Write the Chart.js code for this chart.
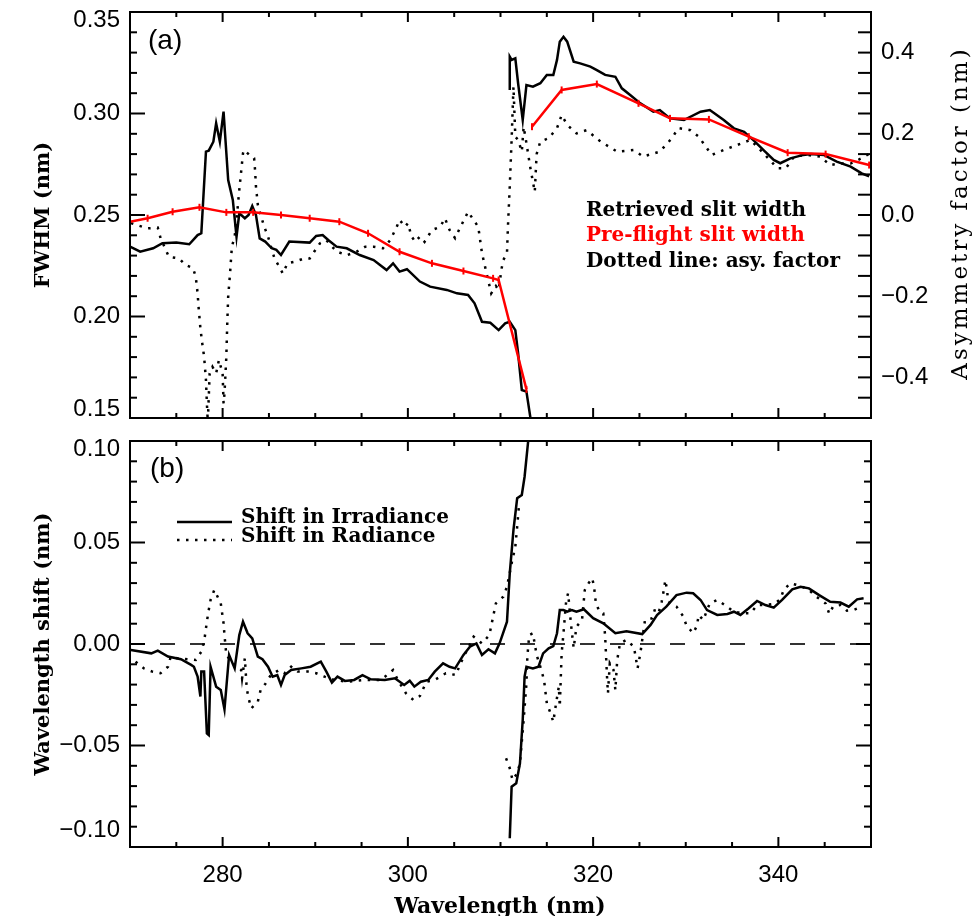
<!DOCTYPE html>
<html>
<head>
<meta charset="utf-8">
<script src="https://cdn.jsdelivr.net/npm/chart.js@4.4.1/dist/chart.umd.min.js"></script>
<style>
    html, body { margin: 0; padding: 0; background: #fff; }
    #wrap { position: relative; width: 977px; height: 916px; }
    #wrap canvas { position: absolute; left: 0; }
    #topChart { top: 0; }
    #botChart { top: 430px; }
</style>
</head>
<body>
<div id="wrap">
    <canvas id="topChart" width="977" height="430"></canvas>
    <canvas id="botChart" width="977" height="486"></canvas>
</div>
<script>
// --- Tick labels ---
const wlTicks = [280, 300, 320, 340];
const fwhmTicks = [0.15, 0.20, 0.25, 0.30, 0.35];
const asymTicks = [-0.4, -0.2, 0.0, 0.2, 0.4];
const shiftTicks = [-0.10, -0.05, 0.00, 0.05, 0.10];

// --- Panel (a): retrieved slit width (FWHM, nm) ---
const fwhmWl = [270, 271.1, 272.5, 273.5, 275.0, 276.4, 277.3, 277.7, 278.2, 278.5, 279.0, 279.3, 279.7, 280.1,
    280.6, 281.1, 281.5, 281.8, 282.4, 282.8, 283.2, 283.6, 284.0, 284.6, 285.3, 285.8, 286.3, 287.2, 289.4, 290.1,
    290.8, 291.4, 292.3, 293.4, 294.8, 296.3, 297.7, 298.4, 299.1, 299.9, 301.3, 302.4, 304.2, 305.3, 306.5, 307.2,
    308.0, 308.9, 309.8, 310.5, 311.0, 311.6, 311.9, 312.3, 312.8, 313.3,
    311.0,
    311.0, 311.0, 311.2, 311.6, 311.9, 312.4, 312.8, 313.5, 314.3, 315.0, 315.7, 316.1, 316.4, 316.8, 317.2, 317.9,
    318.6, 319.7, 320.4, 321.3, 322.4, 323.1, 324.0, 325.1, 326.5, 327.2, 328.3, 329.8, 331.6, 332.6, 334.1, 335.2,
    336.3, 337.3, 338.4, 339.5, 340.2, 341.3, 342.7, 343.5, 344.9, 346.3, 347.8, 349.0, 349.8];
const fwhmVal = [0.2344, 0.2319, 0.2336, 0.2361, 0.2364, 0.2356, 0.2401, 0.2410, 0.2812, 0.2817, 0.2861, 0.2952, 0.2861, 0.3009,
    0.2672, 0.2574, 0.2393, 0.2508, 0.2484, 0.2500, 0.2544, 0.2500, 0.2385, 0.2369, 0.2336, 0.2328, 0.2303, 0.2369, 0.2364, 0.2397,
    0.2401, 0.2377, 0.2344, 0.2336, 0.2303, 0.2278, 0.2229, 0.2262, 0.2221, 0.2233, 0.2172, 0.2147, 0.2131, 0.2114, 0.2106, 0.2065,
    0.1974, 0.1969, 0.1933, 0.1966, 0.1974, 0.1933, 0.1819, 0.1638, 0.1630, 0.1480,
    null,
    0.3116, 0.3280, 0.3264, 0.3272, 0.3149, 0.2968, 0.3140, 0.3132, 0.3149, 0.3190, 0.3190, 0.3264, 0.3354, 0.3378, 0.3354, 0.3255,
    0.3247, 0.3231, 0.3214, 0.3190, 0.3181, 0.3124, 0.3091, 0.3050, 0.3009, 0.3017, 0.2976, 0.2968, 0.3009, 0.3017, 0.2968, 0.2927,
    0.2910, 0.2869, 0.2820, 0.2771, 0.2755, 0.2779, 0.2796, 0.2800, 0.2796, 0.2763, 0.2738, 0.2705, 0.2690];

// pre-flight slit width (nodes)
const preWl = [270, 271.9, 274.6, 277.5, 280.4, 283.3, 286.3, 289.4, 292.6, 295.7, 299.1, 302.6, 306.0, 309.2, 309.8, 312.8,
    313.0,
    313.4, 316.6, 320.4, 324.9, 328.3, 332.5, 336.8, 341.0, 345.1, 349.8];
const preVal = [0.2467, 0.2484, 0.2516, 0.2538, 0.2513, 0.2513, 0.2500, 0.2484, 0.2467, 0.2410, 0.2319, 0.2262, 0.2224, 0.2188, 0.2180, 0.1641,
    null,
    0.2935, 0.3116, 0.3145, 0.3050, 0.2976, 0.2971, 0.2886, 0.2807, 0.2800, 0.2746];

// asymmetry factor (right axis)
const asymWl = [270.1, 271.9, 273.0, 273.3, 274.2, 275.3, 276.0, 276.8, 277.1, 277.3, 277.4, 277.6, 277.8, 278.0, 278.2, 278.3,
    278.4, 278.6, 278.9, 279.3, 279.6, 280.0, 280.1, 280.2, 280.4, 280.5, 280.6, 280.8, 281.0, 281.3, 281.6, 281.8, 282.0, 282.2,
    282.3, 282.9, 283.4, 283.5, 283.6, 283.8, 284.1, 284.5, 284.9, 285.6, 286.1, 286.5, 287.0, 287.8, 288.8, 289.4, 289.9, 290.5,
    291.2, 292.3, 293.4, 294.5, 295.4, 296.3, 297.3, 298.1, 298.8, 299.1, 299.7, 300.0, 300.4, 300.8, 301.3, 301.8, 302.6, 303.5,
    304.0, 304.5, 305.1, 305.6, 306.5, 307.2, 307.6, 308.0, 308.5, 309.0, 309.5, 309.8, 310.1, 310.3, 310.7, 310.8, 311.0, 311.2,
    311.4, 311.6, 311.9, 312.3, 312.5, 312.8, 313.2, 313.7, 313.9, 314.3, 315.2, 316.1, 316.6, 317.2, 318.2, 319.3, 320.8, 322.6,
    324.4, 325.4, 327.2, 328.5, 329.2, 330.5, 331.4, 332.8, 334.1, 335.5, 337.0, 338.4, 339.9, 340.8, 341.7, 343.1, 344.5, 345.6,
    346.7, 347.8, 349.0, 349.9];
const asymVal = [-0.020, -0.033, -0.031, -0.057, -0.103, -0.107, -0.123, -0.131, -0.152, -0.193, -0.226, -0.279, -0.316, -0.349, -0.406, -0.464,
    -0.510, -0.390, -0.374, -0.390, -0.357, -0.390, -0.464, -0.440, -0.349, -0.267, -0.201, -0.144, -0.078, -0.053, 0.012, 0.062, 0.107, 0.152,
    0.160, 0.148, 0.140, 0.111, 0.070, 0.025, 0.000, -0.029, -0.053, -0.107, -0.127, -0.144, -0.119, -0.115, -0.107, -0.107, -0.090, -0.070,
    -0.062, -0.090, -0.099, -0.090, -0.078, -0.078, -0.082, -0.062, -0.029, -0.012, -0.029, -0.020, -0.053, -0.066, -0.053, -0.066, -0.037, -0.029,
    -0.008, -0.037, -0.057, -0.033, 0.008, -0.016, -0.029, -0.094, -0.144, -0.193, -0.175, -0.185, -0.134, -0.111, -0.094, -0.030, 0.070, 0.185,
    0.316, 0.193, 0.185, 0.156, 0.217, 0.177, 0.119, 0.057, 0.150, 0.181, 0.189, 0.214, 0.246, 0.222, 0.201, 0.209, 0.181, 0.156,
    0.160, 0.144, 0.156, 0.189, 0.214, 0.209, 0.193, 0.148, 0.160, 0.172, 0.185, 0.152, 0.115, 0.115, 0.144, 0.148, 0.144, 0.123,
    0.127, 0.127, 0.140, 0.152];

// --- Panel (b): wavelength shift (nm) ---
const irrWl = [270.1, 272.3, 273.0, 274.1, 275.5, 276.6, 276.9, 277.3, 277.6, 277.7, 278.0, 278.3, 278.5, 278.7, 279.3, 279.8,
    280.2, 280.7, 281.3, 281.8, 282.2, 282.7, 283.2, 283.8, 284.3, 284.9, 285.4, 285.9, 286.3, 286.7, 287.4, 288.5, 289.5, 290.6,
    291.2, 291.8, 292.4, 293.2, 294.2, 295.1, 296.0, 297.5, 298.6, 299.6, 300.2, 300.7, 301.4, 302.2, 302.9, 303.8, 304.5, 305.1,
    306.0, 306.7, 307.4, 308.0, 308.7, 309.4, 309.9, 310.7, 311.0, 311.4, 311.8, 312.3, 312.6, 313.0, 313.2,
    311.0,
    311.0, 311.2, 311.7, 312.1, 312.4, 312.6, 312.8, 313.5, 314.1, 314.6, 315.2, 315.7, 316.1, 316.4, 316.8, 317.2, 317.7, 318.2,
    319.0, 320.0, 321.1, 322.4, 323.6, 325.3, 326.2, 326.9, 327.9, 329.0, 330.1, 330.8, 331.6, 332.3, 333.4, 334.5, 335.2, 335.9,
    336.8, 337.7, 338.6, 339.5, 340.4, 341.5, 342.4, 343.3, 344.4, 345.6, 346.7, 347.6, 348.5, 349.2];
const irrVal = [-0.0030, -0.0046, -0.0033, -0.0062, -0.0075, -0.0103, -0.0112, -0.0161, -0.0259, -0.0136, -0.0136, -0.0440, -0.0448, -0.0112, -0.0210, -0.0227,
    -0.0322, -0.0054, -0.0120, 0.0044, 0.0110, 0.0053, 0.0028, -0.0062, -0.0075, -0.0112, -0.0161, -0.0153, -0.0202, -0.0153, -0.0128, -0.0120, -0.0112, -0.0087,
    -0.0136, -0.0190, -0.0161, -0.0182, -0.0177, -0.0153, -0.0174, -0.0177, -0.0169, -0.0202, -0.0181, -0.0210, -0.0186, -0.0177, -0.0136, -0.0095, -0.0112, -0.0120,
    -0.0054, -0.0013, 0.0003, -0.0054, -0.0026, -0.0046, 0.0003, 0.0110, 0.0348, 0.0562, 0.0718, 0.0734, 0.0824, 0.1005, 0.1100,
    null,
    -0.0957, -0.0703, -0.0686, -0.0588, -0.0374, -0.0161, -0.0112, -0.0120, -0.0112, -0.0046, -0.0021, -0.0010, 0.0053, 0.0167, 0.0167, 0.0159, 0.0167, 0.0159,
    0.0171, 0.0127, 0.0102, 0.0053, 0.0063, 0.0049, 0.0094, 0.0143, 0.0184, 0.0241, 0.0253, 0.0250, 0.0217, 0.0167, 0.0143, 0.0148, 0.0159, 0.0143,
    0.0176, 0.0212, 0.0192, 0.0179, 0.0217, 0.0269, 0.0282, 0.0274, 0.0241, 0.0208, 0.0204, 0.0184, 0.0220, 0.0225];

const radWl = [270.6, 271.5, 272.4, 273.3, 274.1, 274.4, 275.1, 277.1, 277.7, 278.0, 278.3, 278.5, 278.7, 279.1, 279.8, 280.1,
    280.2, 280.4, 281.2, 282.0, 282.1, 282.4, 282.6, 282.8, 283.1, 283.8, 284.1, 284.6, 285.2, 286.1, 286.7, 287.4, 288.1, 289.2,
    290.1, 291.0, 292.1, 293.5, 295.3, 297.1, 298.4, 298.9, 299.8, 300.6, 301.3, 302.0, 302.9, 304.1, 305.2, 305.6, 307.1, 308.0,
    308.8, 309.2, 309.5, 310.3, 310.7, 311.2, 311.6, 311.8, 312.0,
    311.0,
    310.6, 311.0, 311.3, 311.8, 312.1, 312.5, 312.8, 312.9, 313.1, 313.5, 313.9, 314.3, 314.7, 315.0, 315.4, 315.7, 316.0, 316.3,
    316.4, 316.6, 316.8, 317.1, 317.3, 317.6, 317.9, 318.2, 318.8, 319.1, 319.5, 319.9, 320.1, 320.3, 320.7, 321.1, 321.3, 321.5,
    321.6, 321.8, 322.2, 322.4, 322.6, 322.9, 323.6, 324.4, 324.8, 325.1, 325.3, 325.6, 326.4, 326.7, 327.1, 327.4, 327.6, 327.8,
    328.0, 328.1, 329.0, 329.7, 330.1, 330.5, 330.8, 331.2, 331.4, 331.9, 332.3, 332.6, 333.4, 334.2, 335.2, 336.1, 337.0, 337.7,
    338.6, 339.5, 340.2, 340.6, 341.3, 342.4, 343.3, 344.0, 344.6, 345.1, 345.5, 345.9, 346.7, 347.4, 348.1, 349.0];
const radVal = [-0.0087, -0.0120, -0.0136, -0.0144, -0.0112, -0.0062, -0.0070, -0.0079, -0.0038, 0.0011, 0.0110, 0.0167, 0.0217, 0.0266, 0.0200, 0.0102,
    0.0044, -0.0054, -0.0100, -0.0128, -0.0169, -0.0070, -0.0218, -0.0267, -0.0317, -0.0284, -0.0227, -0.0197, -0.0153, -0.0128, -0.0144, -0.0112, -0.0136, -0.0136,
    -0.0144, -0.0161, -0.0177, -0.0186, -0.0177, -0.0177, -0.0128, -0.0177, -0.0243, -0.0276, -0.0256, -0.0186, -0.0177, -0.0144, -0.0153, -0.0103, 0.0036, 0.0003,
    0.0044, 0.0134, 0.0200, 0.0233, 0.0282, 0.0397, 0.0479, 0.0578, 0.0685,
    null,
    -0.0563, -0.0612, -0.0670, -0.0637, -0.0588, -0.0374, -0.0194, -0.0062, 0.0044, 0.0053, -0.0054, -0.0112, -0.0177, -0.0292, -0.0341, -0.0383, -0.0292, -0.0210,
    -0.0309, -0.0046, 0.0053, 0.0217, 0.0250, 0.0102, -0.0021, 0.0085, 0.0118, 0.0266, 0.0299, 0.0324, 0.0282, 0.0200, 0.0159, 0.0151, 0.0036, -0.0161,
    -0.0243, -0.0095, -0.0128, -0.0227, -0.0079, 0.0003, 0.0020, -0.0013, -0.0120, -0.0046, 0.0020, 0.0118, 0.0127, 0.0176, 0.0159, 0.0208, 0.0258, 0.0315,
    0.0258, 0.0208, 0.0184, 0.0138, 0.0089, 0.0069, 0.0053, 0.0089, 0.0143, 0.0118, 0.0167, 0.0200, 0.0217, 0.0192, 0.0159, 0.0151, 0.0151, 0.0192,
    0.0192, 0.0197, 0.0220, 0.0269, 0.0299, 0.0286, 0.0266, 0.0236, 0.0217, 0.0200, 0.0148, 0.0184, 0.0192, 0.0164, 0.0167, 0.0184];

const zeroWl = [270, 350];
const zeroVal = [0, 0];

function pts(xs, ys) {
    return xs.map((x, i) => ({ x: x, y: ys[i] }));
}

// lineHeight is only used to nudge the end labels off the frame corners (IDL style)
const TICK_FONT = { family: "'Liberation Sans', Arial, sans-serif", size: 24, lineHeight: 0.7 };
const DOT = [2.5, 6.5];

function minusSign(s) { return s.replace('-', '\u2212'); }

function fixedTicks(list) {
    return function (scale) {
        scale.ticks = list.map(v => ({ value: v }));
    };
}

// push first label up / last label down with blank lines
function edgeLabel(text, index, count, bottomLines, topLines) {
    if (index === 0 && bottomLines) return [text].concat(Array(bottomLines).fill(''));
    if (index === count - 1 && topLines) return Array(topLines).fill('').concat([text]);
    return text;
}

// IDL-like box: frame, inward ticks and free text
const idlAxes = {
    id: 'idlAxes',
    afterDatasetsDraw(chart, args, opts) {
        const { ctx, chartArea: a, scales } = chart;
        ctx.save();
        ctx.strokeStyle = '#000';
        ctx.lineWidth = 2;
        ctx.strokeRect(a.left, a.top, a.right - a.left, a.bottom - a.top);

        const drawTicks = (spec) => {
            const s = scales[spec.scale];
            const n = Math.round((spec.max - spec.min) / spec.step);
            for (let k = 0; k <= n; k++) {
                const v = spec.min + k * spec.step;
                const major = Math.abs(v / spec.major - Math.round(v / spec.major)) < 1e-6;
                const len = major ? spec.bigLen : spec.smallLen;
                const p = s.getPixelForValue(v);
                ctx.beginPath();
                if (spec.side === 'bottom') { ctx.moveTo(p, a.bottom); ctx.lineTo(p, a.bottom - len); }
                if (spec.side === 'top') { ctx.moveTo(p, a.top); ctx.lineTo(p, a.top + len); }
                if (spec.side === 'left') { ctx.moveTo(a.left, p); ctx.lineTo(a.left + len, p); }
                if (spec.side === 'right') { ctx.moveTo(a.right, p); ctx.lineTo(a.right - len, p); }
                ctx.stroke();
            }
        };
        (opts.ticks || []).forEach(drawTicks);

        (opts.samples || []).forEach(sm => {
            ctx.save();
            ctx.lineWidth = 2.5;
            ctx.setLineDash(sm.dash || []);
            ctx.beginPath();
            ctx.moveTo(sm.x0, sm.y);
            ctx.lineTo(sm.x1, sm.y);
            ctx.stroke();
            ctx.restore();
        });

        (opts.texts || []).forEach(t => {
            ctx.save();
            ctx.font = t.font;
            ctx.fillStyle = t.color || '#000';
            ctx.textAlign = t.align || 'left';
            ctx.textBaseline = t.baseline || 'alphabetic';
            if (t.spacing) ctx.letterSpacing = t.spacing;
            ctx.translate(t.x, t.y);
            if (t.rotate) ctx.rotate(t.rotate);
            ctx.fillText(t.text, 0, 0);
            ctx.restore();
        });
        ctx.restore();
    }
};

const SERIF_B = "bold 21px 'DejaVu Serif', serif";
const LEGEND_F = "bold 20px 'DejaVu Serif', serif";

// --- Panel (a) ---
new Chart(document.getElementById('topChart'), {
    type: 'line',
    data: {
        datasets: [
            {
                label: 'Pre-flight slit width', data: pts(preWl, preVal), yAxisID: 'y',
                borderColor: '#ff0000', borderWidth: 2.5, pointStyle: 'line', pointRotation: 90,
                pointRadius: 3.5, pointBorderWidth: 2, pointBorderColor: '#ff0000', pointBackgroundColor: '#ff0000'
            },
            {
                label: 'Retrieved slit width', data: pts(fwhmWl, fwhmVal), yAxisID: 'y',
                borderColor: '#000', borderWidth: 2.5, pointRadius: 0
            },
            {
                label: 'Asymmetry factor', data: pts(asymWl, asymVal), yAxisID: 'y2',
                borderColor: '#000', borderWidth: 2.5, borderDash: DOT, pointRadius: 0
            }
        ]
    },
    options: {
        responsive: false,
        animation: false,
        events: [],
        layout: { padding: { top: 12, bottom: 12, left: 0, right: 0 } },
        scales: {
            x: { type: 'linear', min: 270, max: 350, display: false },
            y: {
                position: 'left', min: 0.15, max: 0.35,
                afterBuildTicks: fixedTicks(fwhmTicks),
                ticks: {
                    font: TICK_FONT, color: '#000', padding: 10,
                    callback: (v, i, all) => edgeLabel(v.toFixed(2), i, all.length, 1, 1)
                },
                grid: { display: false, drawTicks: false }, border: { display: false },
                afterFit(s) { s.width = 130; s.paddingTop = 0; s.paddingBottom = 0; }
            },
            y2: {
                position: 'right', min: -0.5, max: 0.5,
                afterBuildTicks: fixedTicks(asymTicks),
                ticks: { font: TICK_FONT, color: '#000', padding: 10, callback: v => minusSign(v.toFixed(1)) },
                grid: { display: false, drawTicks: false }, border: { display: false },
                afterFit(s) { s.width = 106; s.paddingTop = 0; s.paddingBottom = 0; }
            }
        },
        plugins: {
            legend: { display: false },
            tooltip: { enabled: false },
            idlAxes: {
                ticks: [
                    { scale: 'x', side: 'bottom', min: 270, max: 350, step: 5, major: 20, bigLen: 10, smallLen: 5 },
                    { scale: 'x', side: 'top', min: 270, max: 350, step: 5, major: 20, bigLen: 10, smallLen: 5 },
                    { scale: 'y', side: 'left', min: 0.15, max: 0.35, step: 0.01, major: 0.05, bigLen: 15, smallLen: 7 },
                    { scale: 'y2', side: 'right', min: -0.5, max: 0.5, step: 0.05, major: 0.05, bigLen: 13, smallLen: 13 }
                ],
                texts: [
                    { text: '(a)', x: 148, y: 49, font: "28px 'Liberation Sans', Arial, sans-serif" },
                    { text: 'Retrieved slit width', x: 586, y: 216, font: LEGEND_F },
                    { text: 'Pre-flight slit width', x: 586, y: 241, font: LEGEND_F, color: '#ff0000' },
                    { text: 'Dotted line: asy. factor', x: 586, y: 267, font: LEGEND_F },
                    { text: 'FWHM (nm)', x: 44, y: 215, font: SERIF_B, align: 'center', baseline: 'middle', rotate: -Math.PI / 2 },
                    { text: 'Asymmetry factor (nm)', x: 961, y: 213, font: "23px 'DejaVu Serif', serif", spacing: '3px',
                      align: 'center', baseline: 'middle', rotate: -Math.PI / 2 }
                ]
            }
        }
    },
    plugins: [idlAxes]
});

// --- Panel (b) ---
new Chart(document.getElementById('botChart'), {
    type: 'line',
    data: {
        datasets: [
            {
                label: 'Shift in Irradiance', data: pts(irrWl, irrVal),
                borderColor: '#000', borderWidth: 2.5, pointRadius: 0
            },
            {
                label: 'Shift in Radiance', data: pts(radWl, radVal),
                borderColor: '#000', borderWidth: 2.5, borderDash: DOT, pointRadius: 0
            },
            {
                label: 'zero', data: pts(zeroWl, zeroVal),
                borderColor: '#000', borderWidth: 1.6, borderDash: [15, 15], pointRadius: 0
            }
        ]
    },
    options: {
        responsive: false,
        animation: false,
        events: [],
        layout: { padding: { top: 11, bottom: 0, left: 0, right: 106 } },
        scales: {
            x: {
                type: 'linear', min: 270, max: 350, position: 'bottom',
                afterBuildTicks: fixedTicks(wlTicks),
                ticks: {
                    font: { family: "'Liberation Sans', Arial, sans-serif", size: 24 }, color: '#000', padding: 14,
                    maxRotation: 0, autoSkip: false, callback: v => String(v)
                },
                grid: { display: false, drawTicks: false }, border: { display: false },
                afterFit(s) { s.height = 69; s.paddingLeft = 0; s.paddingRight = 0; }
            },
            y: {
                position: 'left', min: -0.10, max: 0.10,
                afterBuildTicks: fixedTicks(shiftTicks),
                ticks: {
                    font: TICK_FONT, color: '#000', padding: 10,
                    callback: (v, i, all) => edgeLabel(minusSign(v.toFixed(2)), i, all.length, 2, 1)
                },
                grid: { display: false, drawTicks: false }, border: { display: false },
                afterFit(s) { s.width = 130; s.paddingTop = 0; s.paddingBottom = 0; }
            }
        },
        plugins: {
            legend: { display: false },
            tooltip: { enabled: false },
            idlAxes: {
                ticks: [
                    { scale: 'x', side: 'bottom', min: 270, max: 350, step: 5, major: 20, bigLen: 10, smallLen: 5 },
                    { scale: 'x', side: 'top', min: 270, max: 350, step: 5, major: 20, bigLen: 10, smallLen: 5 },
                    { scale: 'y', side: 'left', min: -0.10, max: 0.10, step: 0.01, major: 0.05, bigLen: 15, smallLen: 7 },
                    { scale: 'y', side: 'right', min: -0.10, max: 0.10, step: 0.01, major: 0.05, bigLen: 15, smallLen: 7 }
                ],
                samples: [
                    { x0: 177, x1: 232, y: 92 },
                    { x0: 177, x1: 232, y: 110, dash: DOT }
                ],
                texts: [
                    { text: '(b)', x: 150, y: 47, font: "28px 'Liberation Sans', Arial, sans-serif" },
                    { text: 'Shift in Irradiance', x: 241, y: 93, font: LEGEND_F },
                    { text: 'Shift in Radiance', x: 241, y: 112, font: LEGEND_F },
                    { text: 'Wavelength shift (nm)', x: 44, y: 214, font: SERIF_B, align: 'center', baseline: 'middle', rotate: -Math.PI / 2 },
                    { text: 'Wavelength (nm)', x: 500, y: 483, font: "bold 22px 'DejaVu Serif', serif", align: 'center' }
                ]
            }
        }
    },
    plugins: [idlAxes]
});
</script>
</body>
</html>
